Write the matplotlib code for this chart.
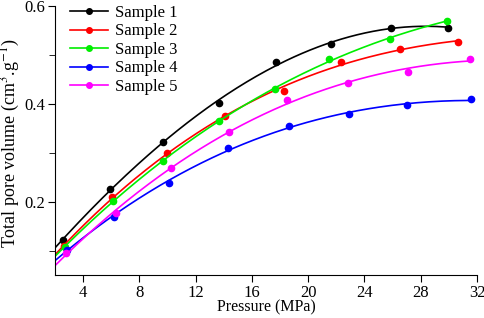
import numpy as np
import matplotlib
matplotlib.use("Agg")
import matplotlib.pyplot as plt
from matplotlib.ticker import MultipleLocator

plt.rcParams['font.family'] = ['Liberation Serif', 'DejaVu Serif']
plt.rcParams['mathtext.fontset'] = 'stix'

labels = ["Sample 1", "Sample 2", "Sample 3", "Sample 4", "Sample 5"]
colors = ["#000000", "#ff0000", "#00ee00", "#0000ff", "#ff00ff"]

p1 = [2.55, 5.89, 9.70, 13.66, 17.73, 21.62, 25.87, 29.96]
v1 = [0.121, 0.226, 0.322, 0.402, 0.485, 0.522, 0.556, 0.556]
p2 = [2.66, 6.05, 9.98, 14.09, 18.28, 22.31, 26.55, 30.65]
v2 = [0.109, 0.210, 0.300, 0.375, 0.427, 0.485, 0.513, 0.527]
p3 = [2.71, 6.10, 9.70, 13.66, 17.66, 21.48, 25.79, 29.84]
v3 = [0.108, 0.201, 0.284, 0.364, 0.431, 0.491, 0.532, 0.570]
p4 = [2.83, 6.17, 10.12, 14.30, 18.61, 22.93, 27.03, 31.60]
v4 = [0.102, 0.169, 0.239, 0.310, 0.355, 0.380, 0.397, 0.409]
p5 = [2.76, 6.36, 10.27, 14.35, 18.51, 22.83, 27.07, 31.52]
v5 = [0.0945, 0.177, 0.269, 0.343, 0.407, 0.443, 0.466, 0.491]

pressures = [p1, p2, p3, p4, p5]
volumes = [v1, v2, v3, v4, v5]

fig = plt.figure(figsize=(4.84, 3.18), dpi=100)
ax = fig.add_axes([0.1136, 0.1352, 0.8719, 0.8458])

for p, v, c, lab in zip(pressures, volumes, colors, labels):
    # smooth fitted curve from the left edge to the last point
    coef = np.polyfit(p, v, 3)
    xs = np.linspace(2, p[-1], 200)
    ax.plot(xs, np.polyval(coef, xs), color=c, lw=1.2)
    ax.plot(p, v, 'o', color=c, ms=4.5)
    ax.plot([], [], '-o', color=c, lw=1.2, ms=4, label=lab)

ax.set_xlim(2, 32)
ax.set_ylim(0.05, 0.6)
ax.xaxis.set_major_locator(MultipleLocator(4))
ax.yaxis.set_minor_locator(MultipleLocator(0.1))
ax.set_yticks([0.2, 0.4, 0.6])
ax.tick_params(which='both', direction='out', labelsize=12)
ax.tick_params(which='major', length=5, pad=2)
ax.tick_params(which='minor', length=4)
ax.spines['top'].set_visible(False)
ax.spines['right'].set_visible(False)

ax.set_xlabel('Pressure (MPa)', fontsize=11.5, labelpad=-1)
ax.set_ylabel('Total pore volume (cm$^{3}$.g$^{-1}$)', fontsize=13)
ax.yaxis.set_label_coords(-0.078, 0.49)

ax.legend(loc='upper left', bbox_to_anchor=(0.0, 1.06), frameon=False,
          fontsize=12, handlelength=2.3, labelspacing=0.15, handletextpad=0.4)

fig.savefig('out.png', dpi=100)
